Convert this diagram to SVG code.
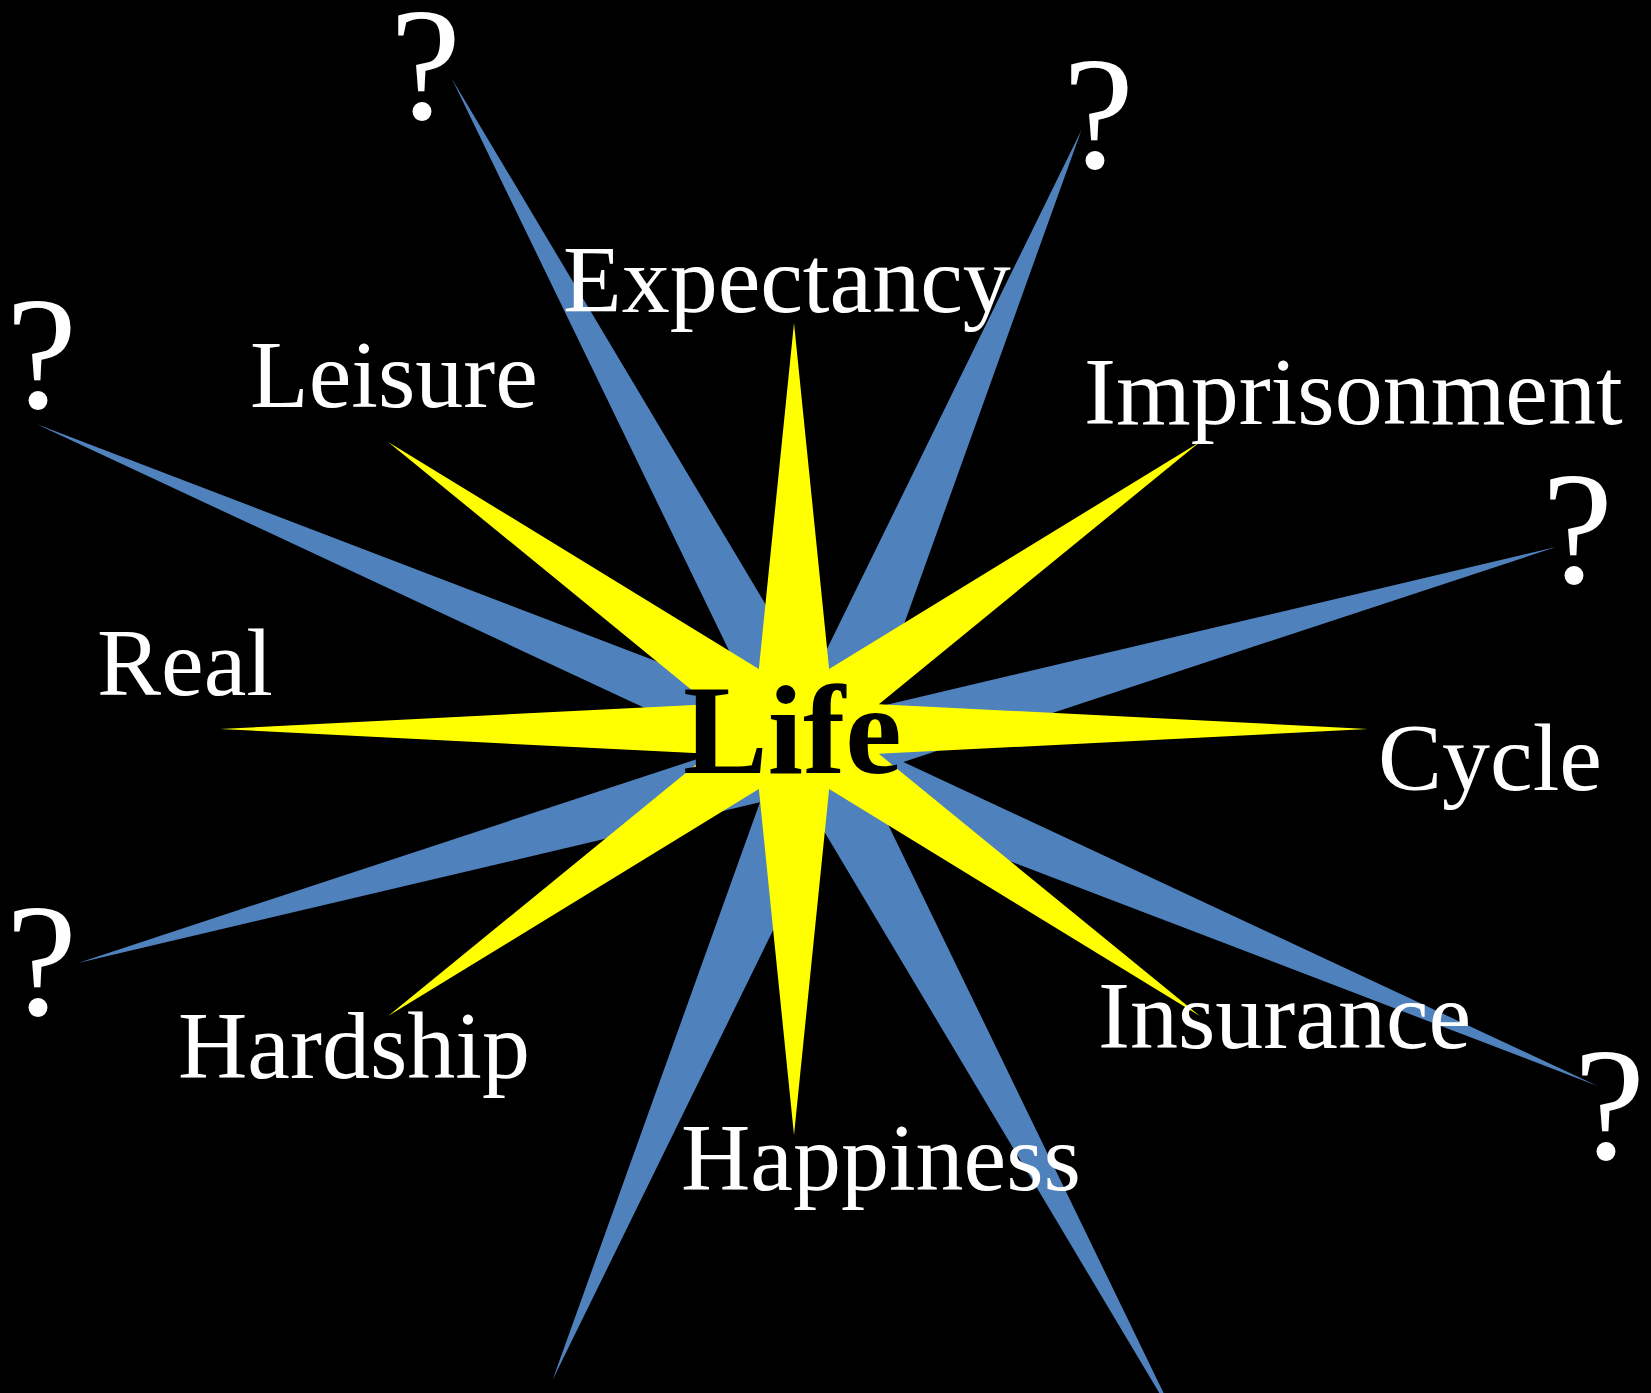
<svg xmlns="http://www.w3.org/2000/svg" width="1651" height="1393" viewBox="0 0 1651 1393">
<style>
.lbl{font-family:"Liberation Serif","Times New Roman",serif;fill:#ffffff;font-size:96px}
.q{font-family:"Liberation Serif","Times New Roman",serif;fill:#ffffff;font-size:160px}
.life{font-family:"Liberation Serif","Times New Roman",serif;fill:#000000;font-size:127px;font-weight:bold}
</style>
<defs>
<polygon id="star8b" points="1,0 0.09701,0.04018 0.7071,0.7071 0.04018,0.09701 0,1 -0.04018,0.09701 -0.7071,0.7071 -0.09701,0.04018 -1,0 -0.09701,-0.04018 -0.7071,-0.7071 -0.04018,-0.09701 0,-1 0.04018,-0.09701 0.7071,-0.7071 0.09701,-0.04018"/>
<polygon id="star8y" points="1,0 0.14782,0.06123 0.7071,0.7071 0.06123,0.14782 0,1 -0.06123,0.14782 -0.7071,0.7071 -0.14782,0.06123 -1,0 -0.14782,-0.06123 -0.7071,-0.7071 -0.06123,-0.14782 0,-1 0.06123,-0.14782 0.7071,-0.7071 0.14782,-0.06123"/>
</defs>
<rect x="0" y="0" width="1651" height="1393" fill="#000000"/>
<g id="blue-star"><use href="#star8b" fill="#4f81bd" transform="matrix(739 -208 365 676 817 755)"/></g>
<g id="yellow-star"><use href="#star8y" fill="#ffff00" transform="matrix(574 0 0 406 794 729)"/></g>
<g id="labels">
<text class="lbl" x="563" y="312">Expectancy</text>
<text class="lbl" x="250" y="407">Leisure</text>
<text class="lbl" x="1084" y="424">Imprisonment</text>
<text class="lbl" x="97" y="695">Real</text>
<text class="lbl" x="1378" y="790">Cycle</text>
<text class="lbl" x="178" y="1078">Hardship</text>
<text class="lbl" x="1098" y="1048">Insurance</text>
<text class="lbl" x="681" y="1190">Happiness</text>
</g>
<g id="center"><text class="life" x="683" y="773">Life</text></g>
<g id="questions">
<text class="q" x="390" y="119">?</text>
<text class="q" x="1063" y="168">?</text>
<text class="q" x="6" y="408">?</text>
<text class="q" x="1542" y="583">?</text>
<text class="q" x="6" y="1015">?</text>
<text class="q" x="1574" y="1159">?</text>
</g>
</svg>
